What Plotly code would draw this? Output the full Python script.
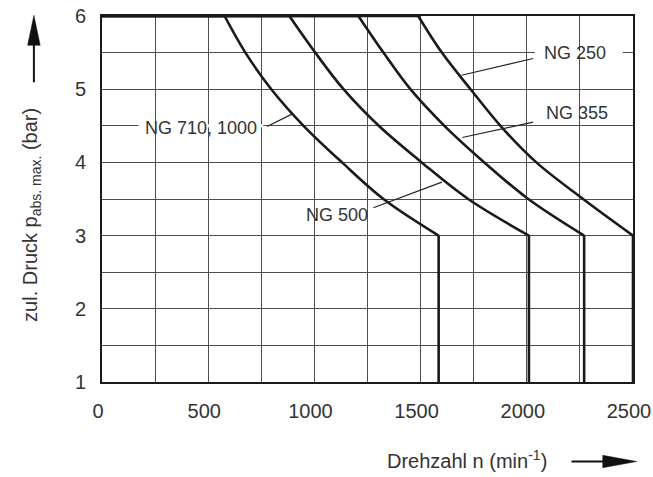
import plotly.graph_objects as go

# ---- data ----
p_levels = [6.0, 5.5, 5.0, 4.5, 4.0, 3.5, 3.0]
n_ng710_1000 = [577, 675, 797, 949, 1130, 1325, 1585]
n_ng500 = [882, 1004, 1137, 1303, 1505, 1724, 2010]
n_ng355 = [1207, 1325, 1452, 1612, 1800, 2007, 2270]
n_ng250 = [1489, 1600, 1735, 1876, 2045, 2265, 2500]
curve_names = ["NG 710, 1000", "NG 500", "NG 355", "NG 250"]
curves = [n_ng710_1000, n_ng500, n_ng355, n_ng250]
p_min, p_max = 1, 6
n_min, n_max = 0, 2500

x_ticks = [0, 500, 1000, 1500, 2000, 2500]
x_ticklabels = ["0", "500", "1000", "1500", "2000", "2500"]
y_ticks = [1, 2, 3, 4, 5, 6]
y_ticklabels = ["1", "2", "3", "4", "5", "6"]

# label positions (n, p) and leader lines (n0, p0, n1, p1)
labels = {
    "NG 710, 1000": (465, 4.47),
    "NG 500": (1105, 3.28),
    "NG 355": (2234, 4.68),
    "NG 250": (2226, 5.50),
}
leaders = {
    "NG 710, 1000": (777, 4.49, 894, 4.66),
    "NG 500": (1278, 3.38, 1600, 3.73),
    "NG 355": (2030, 4.55, 1696, 4.34),
    "NG 250": (2030, 5.42, 1693, 5.19),
}
masks = [(172, 759, 4.5), (2038, 2452, 5.5)]

FONT = "Liberation Sans, Arial, sans-serif"
TXT = "#333333"
LINE = "#1a1a1a"

fig = go.Figure()
for name, ns in zip(curve_names, curves):
    fig.add_trace(go.Scatter(x=[n_min, ns[0]], y=[p_max, p_max], mode="lines",
                             line=dict(color=LINE, width=2.6), cliponaxis=False,
                             showlegend=False, hoverinfo="skip"))
    fig.add_trace(go.Scatter(x=ns, y=p_levels, mode="lines", name=name,
                             line=dict(color=LINE, width=2.6, shape="spline", smoothing=1),
                             cliponaxis=False, showlegend=False))
    fig.add_trace(go.Scatter(x=[ns[-1], ns[-1]], y=[p_levels[-1], p_min], mode="lines",
                             line=dict(color=LINE, width=2.6), cliponaxis=False,
                             showlegend=False, hoverinfo="skip"))

shapes = []
for (a, b, yv) in masks:
    shapes.append(dict(type="line", xref="x", yref="y", x0=a, x1=b, y0=yv, y1=yv,
                       line=dict(color="white", width=3), layer="between"))
for name, (a0, b0, a1, b1) in leaders.items():
    shapes.append(dict(type="line", xref="x", yref="y", x0=a0, y0=b0, x1=a1, y1=b1,
                       line=dict(color="#222222", width=1.2), layer="above"))

L, R, T, B = 101.5, 633.3, 15.7, 381.7
def px(xp):
    return (xp - L) / (R - L)
def py(yp):
    return (B - yp) / (B - T)

# y-axis arrow
shapes.append(dict(type="line", xref="paper", yref="paper", x0=px(33.3), x1=px(33.3),
                   y0=py(82), y1=py(44), line=dict(color="#111111", width=2)))
shapes.append(dict(type="path", xref="paper", yref="paper",
                   path=f"M {px(33.3)} {py(15)} L {px(27)} {py(45)} L {px(39.6)} {py(45)} Z",
                   fillcolor="#111111", line=dict(color="#111111", width=0.5)))
# x-axis arrow
shapes.append(dict(type="line", xref="paper", yref="paper", x0=px(571.7), x1=px(604),
                   y0=py(461.2), y1=py(461.2), line=dict(color="#111111", width=2)))
shapes.append(dict(type="path", xref="paper", yref="paper",
                   path=f"M {px(637)} {py(461.2)} L {px(603)} {py(455)} L {px(603)} {py(467.4)} Z",
                   fillcolor="#111111", line=dict(color="#111111", width=0.5)))

annotations = []
for name, (nx, pyv) in labels.items():
    annotations.append(dict(x=nx, y=pyv, xref="x", yref="y", text=name, showarrow=False,
                            xanchor="center", yanchor="middle",
                            font=dict(family=FONT, size=18, color=TXT)))
annotations.append(dict(x=px(467.5), y=py(459), xref="paper", yref="paper",
                        xanchor="center", yanchor="middle",
                        text="Drehzahl n (min<sup>-1</sup>)", showarrow=False,
                        font=dict(family=FONT, size=20, color=TXT)))
annotations.append(dict(x=px(31), y=py(215), xref="paper", yref="paper", textangle=-90,
                        xanchor="center", yanchor="middle",
                        text="zul. Druck p<sub>abs. max.</sub> (bar)", showarrow=False,
                        font=dict(family=FONT, size=20, color=TXT)))

grid = "#4d4d4d"
axis_common = dict(showgrid=True, gridcolor=grid, gridwidth=1,
                   showline=True, mirror=True, linecolor="#1a1a1a", linewidth=2,
                   ticks="", ticklabelstandoff=10, zeroline=False, automargin=False,
                   ticklabeloverflow="allow",
                   tickfont=dict(family=FONT, size=20, color=TXT))
fig.update_layout(
    width=653, height=477,
    margin=dict(l=L, r=653 - R, t=T, b=477 - B, autoexpand=False),
    paper_bgcolor="white", plot_bgcolor="white",
    shapes=shapes, annotations=annotations,
    font=dict(family=FONT, size=20, color=TXT),
    xaxis=dict(range=[n_min, n_max], tickvals=x_ticks, ticktext=x_ticklabels,
               ticklabelshift=-4,
               minor=dict(dtick=250, tick0=0, showgrid=True, gridcolor=grid, gridwidth=1),
               **axis_common),
    yaxis=dict(range=[p_min, p_max], tickvals=y_ticks, ticktext=y_ticklabels,
               minor=dict(dtick=0.5, tick0=0, showgrid=True, gridcolor=grid, gridwidth=1),
               **axis_common),
)

fig.write_html("out.html")
